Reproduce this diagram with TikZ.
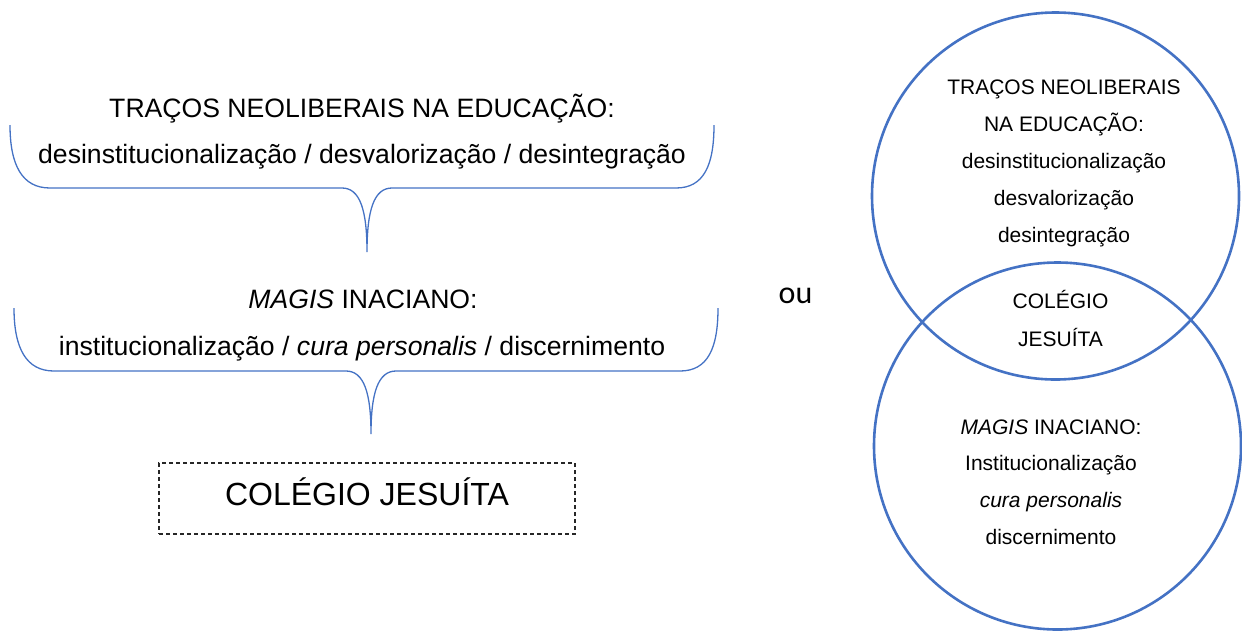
\documentclass[tikz,border=0pt]{standalone}
\usepackage{fontspec}
\setmainfont{Liberation Sans}
\newfontfamily\oufont{Carlito}
\usepackage{xcolor}
\definecolor{vennblue}{RGB}{68,114,196}

\begin{document}
\begin{tikzpicture}[x=1pt,y=1pt]
\tikzstyle{every node}+=[inner sep=0pt]
\tikzstyle{bigtext}=[anchor=base,font=\fontsize{26.6}{32}\selectfont]
\tikzstyle{circtext}=[anchor=base,font=\fontsize{21}{25}\selectfont]
\tikzstyle{brace}=[vennblue,line width=1.3pt]
\tikzstyle{venn}=[vennblue,line width=2.6pt]
\useasboundingbox (0,0) rectangle (1242,-630);
% left: first brace
\node [bigtext] (neo1) at (362,-117) {TRAÇOS NEOLIBERAIS NA EDUCAÇÃO:};
\node [bigtext] (neo2) at (362,-163) {desinstitucionalização / desvalorização / desintegração};
\draw [brace] (10,-125) .. controls (10,-165) and (22,-188) .. (50,-188) -- (342,-188) .. controls (360,-188) and (367,-210) .. (367,-252) .. controls (367,-210) and (374,-188) .. (392,-188) -- (676,-188) .. controls (704,-188) and (714,-165) .. (714,-125);
% left: second brace
\node [bigtext] (mag1) at (363,-308) {\textit{MAGIS} INACIANO:};
\node [bigtext] (mag2) at (362,-355) {institucionalização / \textit{cura personalis} / discernimento};
\draw [brace] (14,-308) .. controls (14,-348) and (26,-371) .. (54,-371) -- (346,-371) .. controls (364,-371) and (371,-393) .. (371,-434) .. controls (371,-393) and (378,-371) .. (396,-371) -- (680,-371) .. controls (708,-371) and (718,-348) .. (718,-308);
\node [draw=black!85,dash pattern=on 4pt off 3pt,line width=1.2pt,minimum width=416,minimum height=71,text height=22.5pt,text depth=8.5pt,font=\fontsize{32}{38}\selectfont] (colegio) at (367,-498.5) {COLÉGIO JESUÍTA};
\node [anchor=base,font=\oufont\fontsize{32}{38}\selectfont] (ou) at (795.5,-303) {ou};
% right: venn
\draw [venn] (1055.5,-196) circle (183.5);
\draw [venn] (1057.5,-446) circle (183.5);
\node [circtext] (c1) at (1064,-94.5) {TRAÇOS NEOLIBERAIS};
\node [circtext] (c2) at (1064,-131.5) {NA EDUCAÇÃO:};
\node [circtext] (c3) at (1064,-168.5) {desinstitucionalização};
\node [circtext] (c4) at (1064,-205.5) {desvalorização};
\node [circtext] (c5) at (1064,-242) {desintegração};
\node [circtext] (m1) at (1060.5,-308.3) {COLÉGIO};
\node [circtext] (m2) at (1060.5,-346) {JESUÍTA};
\node [circtext] (d1) at (1051,-434) {\textit{MAGIS} INACIANO:};
\node [circtext] (d2) at (1051,-470.7) {Institucionalização};
\node [circtext] (d3) at (1051,-507.4) {\textit{cura personalis}};
\node [circtext] (d4) at (1051,-544) {discernimento};
\end{tikzpicture}
\end{document}
